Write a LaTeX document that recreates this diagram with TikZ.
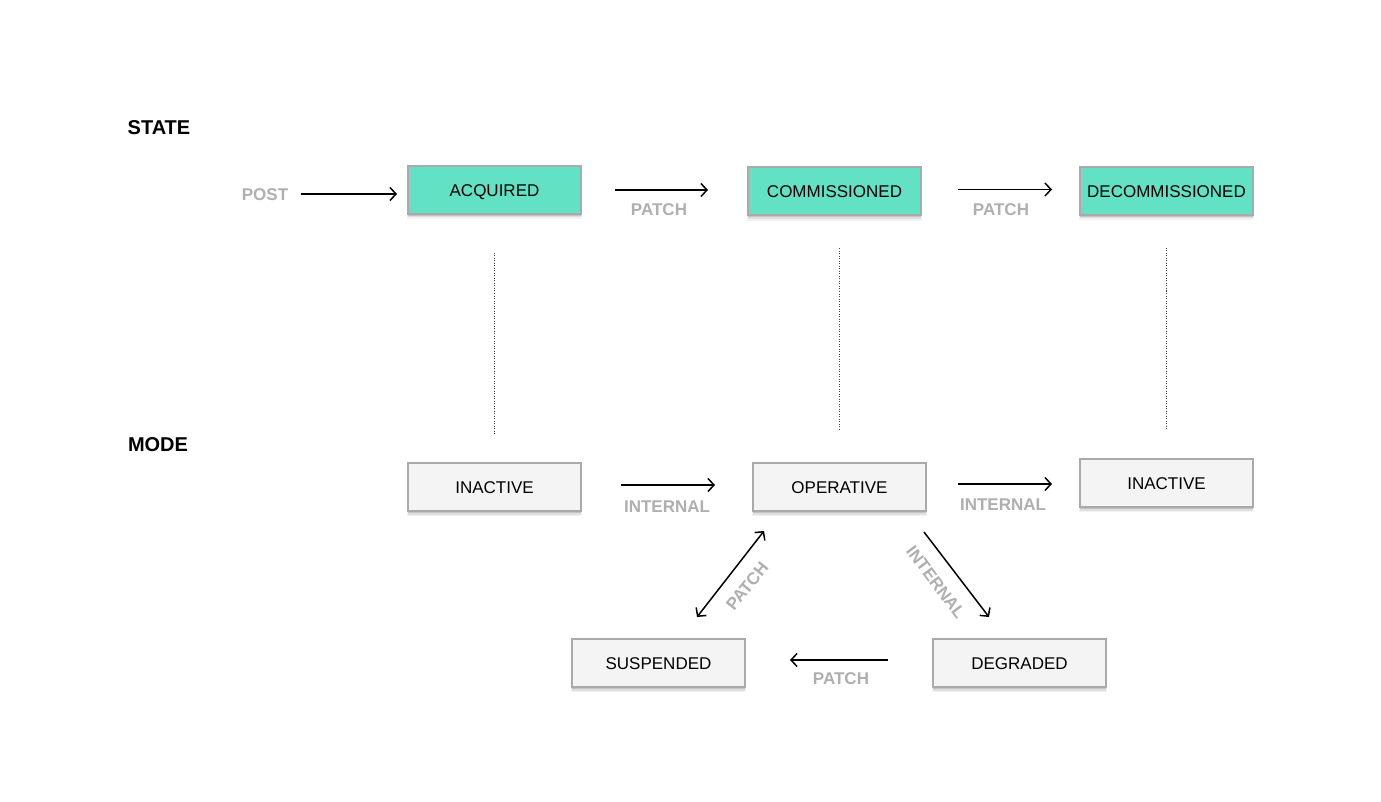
\documentclass[tikz,border=0pt]{standalone}
\usepackage{fontspec}
\setmainfont{Liberation Sans}
\usetikzlibrary{arrows.meta,shadows,calc}
\definecolor{teal1}{HTML}{63E1C5}
\definecolor{boxgray}{HTML}{F4F4F4}
\definecolor{bordergray}{HTML}{ABA9AB}
\definecolor{labelgray}{HTML}{B0AEB0}
\tikzset{
  box/.style={draw=bordergray, line width=2pt, minimum width=173pt, minimum height=48pt,
    inner sep=0pt, text height=12.2pt, text depth=0pt, font=\fontsize{17}{20}\selectfont,
    drop shadow={shadow xshift=0pt, shadow yshift=-5pt, shadow scale=1.01, opacity=0.05, fill=black},
    drop shadow={shadow xshift=0pt, shadow yshift=-3.5pt, opacity=0.08, fill=black},
    drop shadow={shadow xshift=0pt, shadow yshift=-2pt, opacity=0.12, fill=black}},
  statebox/.style={box, fill=teal1},
  modebox/.style={box, fill=boxgray},
  lab/.style={text=labelgray, font=\fontsize{17}{20}\selectfont\bfseries, inner sep=0pt,
    text height=12.2pt, text depth=0pt},
  head/.style={font=\fontsize{20}{24}\selectfont\bfseries, inner sep=0pt, text height=14.3pt, text depth=0pt},
  arr/.style={line width=1.5pt, -{Straight Barb[length=6pt,width=13pt]}},
  darr/.style={line width=1.5pt, {Straight Barb[length=6pt,width=13pt]}-{Straight Barb[length=6pt,width=13pt]}},
  dotline/.style={line width=1pt, black!75, dash pattern=on 1pt off 1.5pt}
}
\begin{document}
\begin{tikzpicture}[x=1pt,y=-1pt]
\useasboundingbox[fill=white] (0,0) rectangle (1381,802);

% headings
\node[head] (state) at (159,127) {STATE};
\node[head] (mode) at (158,444) {MODE};

% state boxes
\node[statebox] (acq) at (494.5,190) {ACQUIRED};
\node[statebox] (com) at (834.5,191.5) {COMMISSIONED};
\node[statebox] (dec) at (1166.5,191) {DECOMMISSIONED};

% mode boxes
\node[modebox] (ina1) at (494.5,487) {INACTIVE};
\node[modebox] (op) at (839.5,487) {OPERATIVE};
\node[modebox] (ina2) at (1166.5,483) {INACTIVE};
\node[modebox] (sus) at (658.5,663) {SUSPENDED};
\node[modebox] (deg) at (1019.5,663) {DEGRADED};

% labels
\node[lab] (post) at (265,194) {POST};
\node[lab] (l1) at (659,209) {PATCH};
\node[lab] (l2) at (1001,209) {PATCH};
\node[lab] (l3) at (667,506) {INTERNAL};
\node[lab] (l4) at (1003,504) {INTERNAL};
\node[lab] (l5) at (841,678) {PATCH};
\node[lab, rotate=51] (l6) at (747,586) {PATCH};
\node[lab, rotate=-53] (l7) at (936,582) {INTERNAL};

% state arrows
\draw[arr, shorten <=13pt, shorten >=10pt] (post.east) -- (post.east -| acq.west);
\draw[arr, shorten <=33pt, shorten >=39pt] (acq.east) -- (acq.east -| com.west);
\draw[arr, shorten <=36pt, shorten >=27pt] ($(com.east)+(0,-2)$) -- ($(com.east -| dec.west)+(0,-2)$);

% mode arrows
\draw[arr, shorten <=39pt, shorten >=37pt] ($(ina1.east)+(0,-2)$) -- ($(ina1.east -| op.west)+(0,-2)$);
\draw[arr, shorten <=31pt, shorten >=27pt] ($(op.east)+(0,-3)$) -- ($(op.east -| ina2.west)+(0,-3)$);
\draw[arr, shorten <=44pt, shorten >=44pt] ($(deg.west)+(0,-3)$) -- ($(deg.west -| sus.east)+(0,-3)$);

% diagonal arrows
\coordinate (d1a) at (697,617);
\coordinate (d1b) at (764,531);
\draw[darr] (d1a) -- (d1b);
\coordinate (d2a) at (924,532);
\coordinate (d2b) at (989,617);
\draw[arr] (d2a) -- (d2b);

% dotted correspondences
\draw[dotline, shorten <=38pt, shorten >=27pt] (acq.south) -- (acq.south |- ina1.north);
\draw[dotline, shorten <=32pt, shorten >=32pt] (op.north |- com.south) -- (op.north);
\draw[dotline, shorten <=32pt, shorten >=28pt] (dec.south) -- (dec.south |- ina2.north);
\end{tikzpicture}
\end{document}
